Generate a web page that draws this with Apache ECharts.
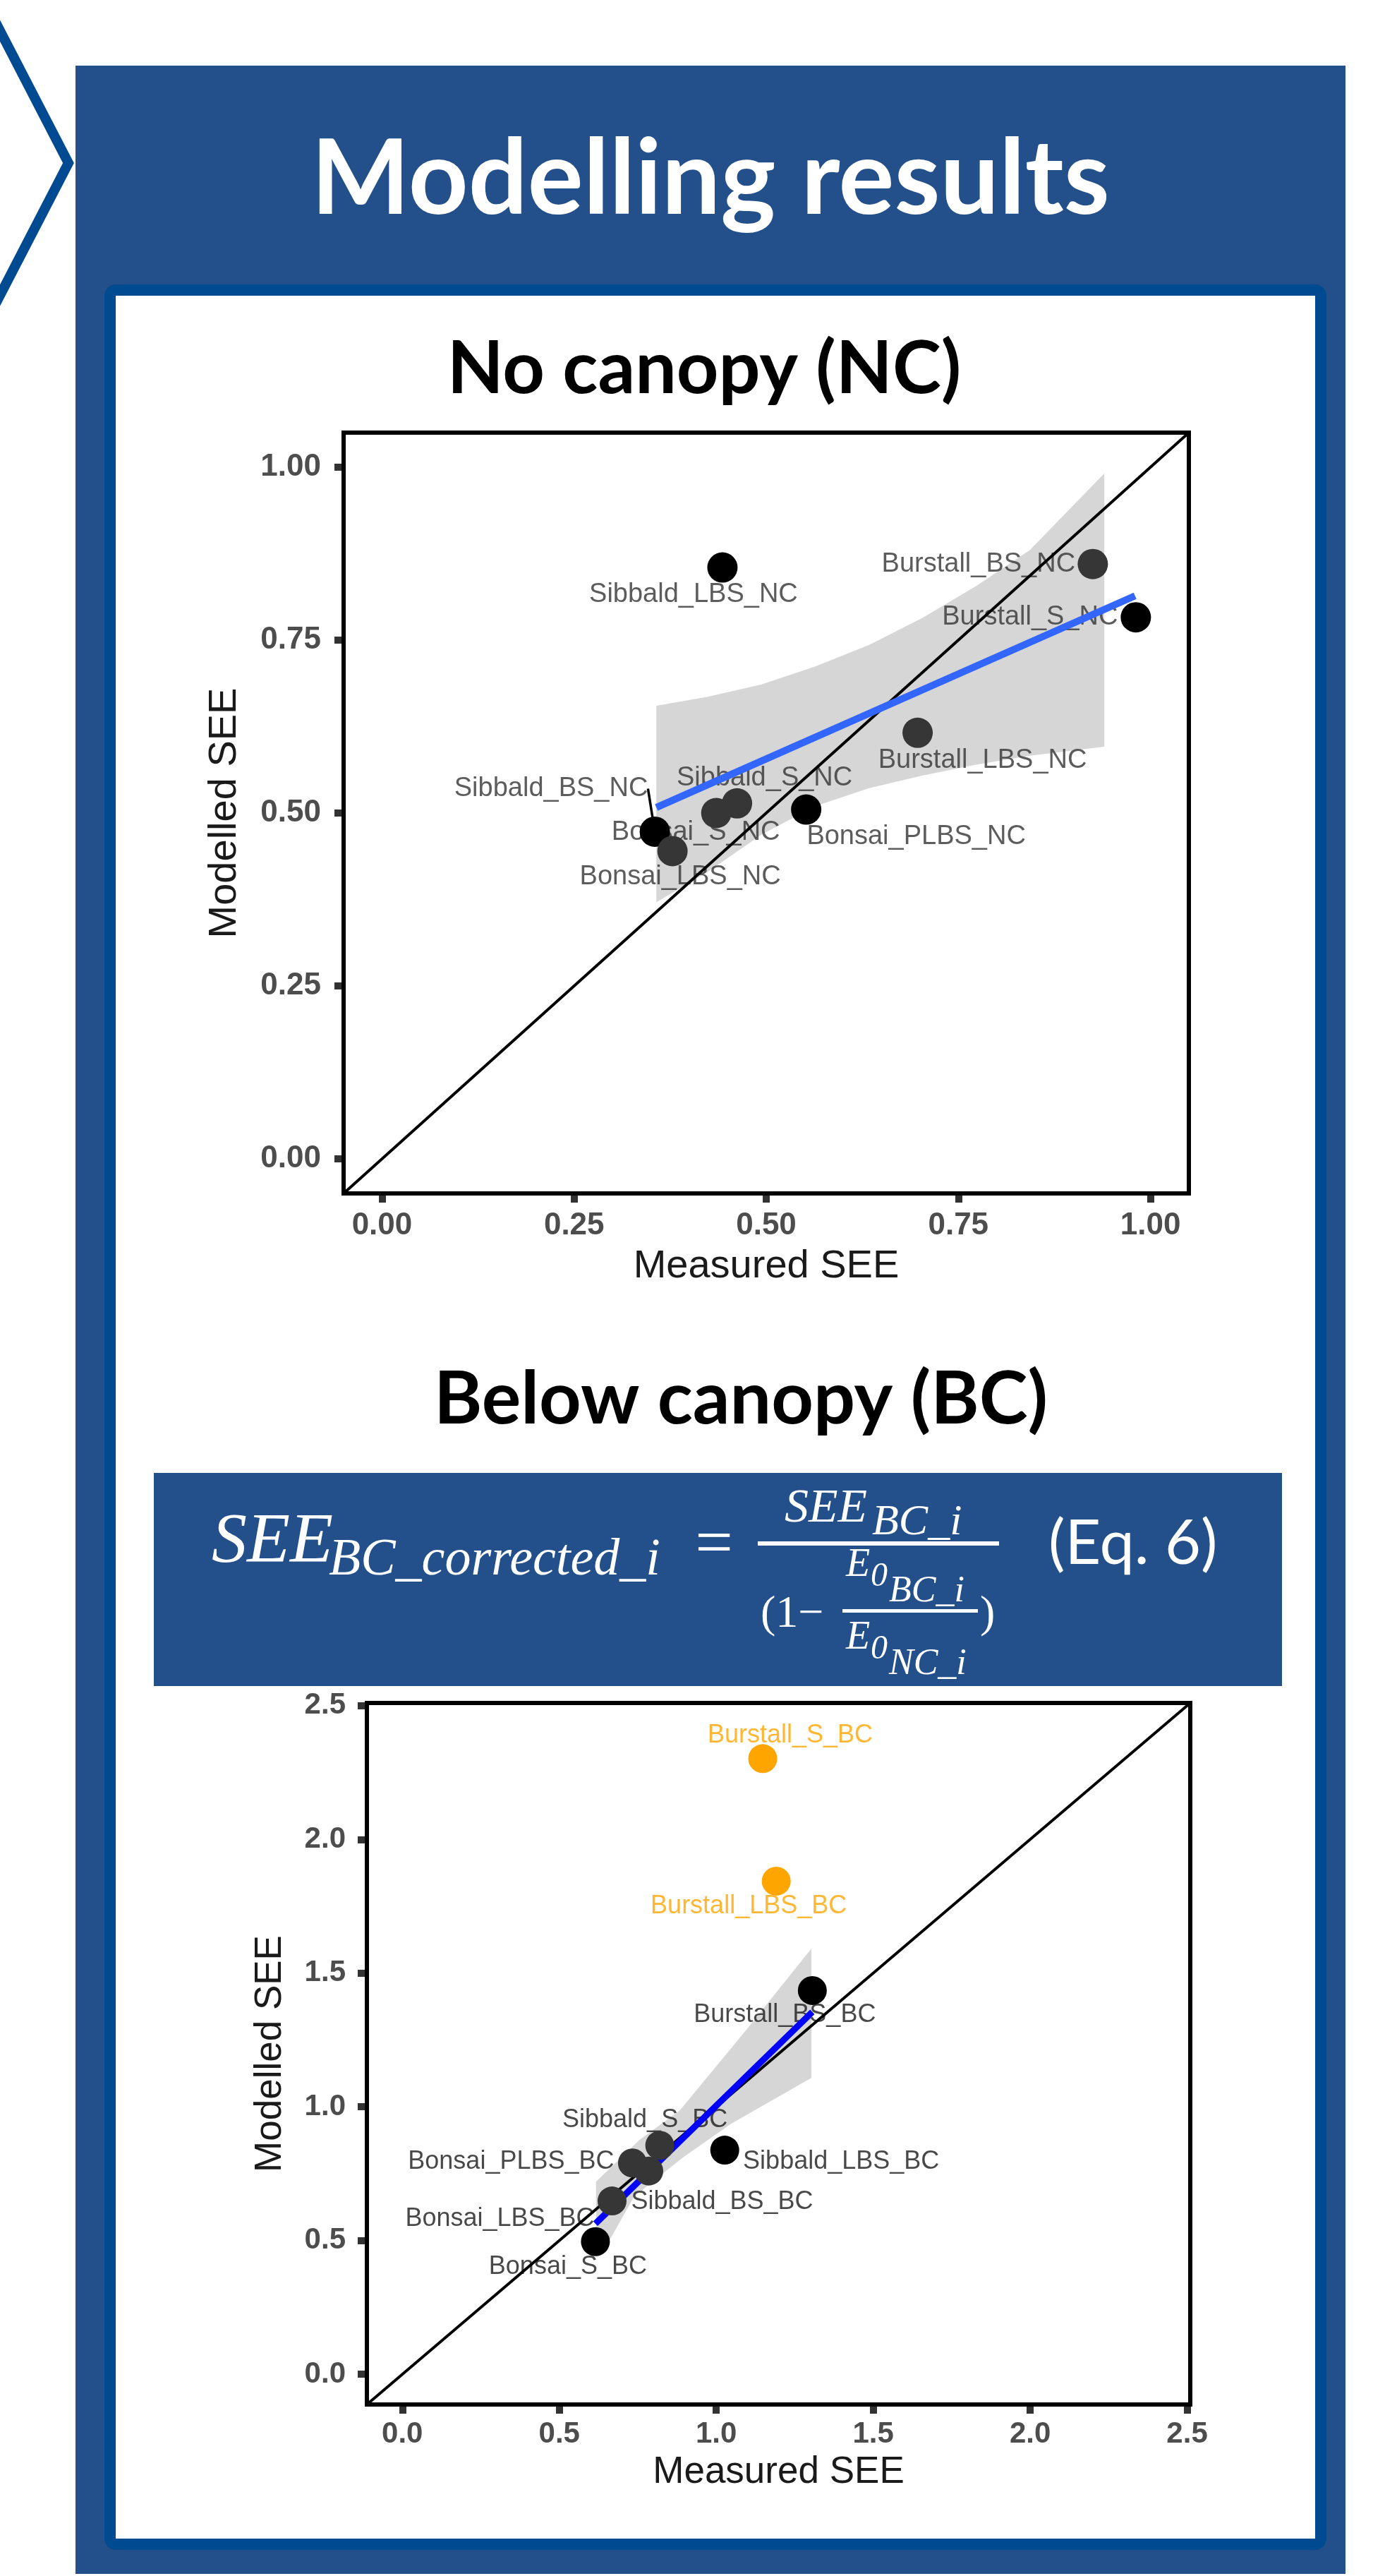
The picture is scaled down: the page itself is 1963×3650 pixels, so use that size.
<!DOCTYPE html>
<html>
<head>
<meta charset="utf-8">
<title>Modelling results</title>
<script src="https://cdn.jsdelivr.net/npm/echarts@6/dist/echarts.min.js"></script>
<style>
  html, body { margin: 0; padding: 0; background: #fff; }
  #page { width: 1963px; height: 3650px; }
</style>
</head>
<body>
<div id="page"></div>
<script>
// ---- No canopy (NC) ----
const ncNames = ["Sibbald_LBS_NC", "Burstall_BS_NC", "Burstall_S_NC", "Burstall_LBS_NC", "Sibbald_S_NC",
  "Bonsai_S_NC", "Bonsai_PLBS_NC", "Sibbald_BS_NC", "Bonsai_LBS_NC"];
const ncMeasured = [0.443, 0.925, 0.981, 0.697, 0.462, 0.435, 0.552, 0.355, 0.378];
const ncModelled = [0.855, 0.860, 0.783, 0.616, 0.514, 0.500, 0.505, 0.473, 0.445];
const ncGroup = [1, 2, 1, 2, 2, 2, 1, 1, 2];
const ncFitX = [0.357, 0.980];
const ncFitY = [0.508, 0.814];
const ncBandX = [0.357, 0.424, 0.494, 0.564, 0.634, 0.703, 0.773, 0.843, 0.940];
const ncBandHi = [0.655, 0.668, 0.686, 0.712, 0.743, 0.782, 0.828, 0.880, 0.991];
const ncBandLo = [0.371, 0.415, 0.469, 0.510, 0.536, 0.554, 0.570, 0.583, 0.596];
const ncTicks = [0, 0.25, 0.5, 0.75, 1];
const ncRange = [-0.05, 1.05];

// ---- Below canopy (BC), corrected ----
const bcNames = ["Burstall_S_BC", "Burstall_LBS_BC", "Burstall_BS_BC", "Sibbald_LBS_BC", "Sibbald_S_BC",
  "Bonsai_PLBS_BC", "Sibbald_BS_BC", "Bonsai_LBS_BC", "Bonsai_S_BC"];
const bcMeasured = [1.148, 1.191, 1.306, 1.027, 0.820, 0.733, 0.785, 0.668, 0.615];
const bcModelled = [2.302, 1.844, 1.435, 0.838, 0.856, 0.790, 0.760, 0.648, 0.496];
const bcGroup = [3, 3, 1, 1, 2, 2, 2, 2, 1];
const bcFitX = [0.615, 1.306];
const bcFitY = [0.563, 1.355];
const bcBandUpX = [0.617, 0.755, 0.884, 1.100, 1.303];
const bcBandUpY = [0.720, 0.876, 0.987, 1.294, 1.592];
const bcBandLoX = [0.617, 0.651, 0.738, 0.893, 1.048, 1.303];
const bcBandLoY = [0.453, 0.483, 0.664, 0.810, 0.937, 1.108];
const bcTicks = [0, 0.5, 1, 1.5, 2, 2.5];
const bcRange = [-0.113, 2.51];

// label nudges in px (ggrepel-like placement)
const ncLabelShift = [[-41, 38], [-162, 0], [-150, 0], [92, 39], [39, -36], [-29, 28], [156, 38], [-147, -61], [11, 37]];
const bcLabelShift = [[39, -33], [-39, 36], [-39, 35], [165, 16], [-21, -36], [-172, -2], [104, 44], [-159, 25], [-39, 36]];

const pointColor = { 1: "#000000", 2: "#363636", 3: "#ffa500" };
const PLOT_FONT = '"Liberation Sans", Arial, sans-serif';
const BLUE = "#23508a";
const DARK_BLUE = "#004a91";

var chart = echarts.init(document.getElementById("page"), null, { renderer: "canvas" });

function makeAxis(idx, ticks, digits, range, name, nameGap, nameSize, labelSize, margin, isY) {
  return {
    type: "value",
    gridIndex: idx,
    min: range[0],
    max: range[1],
    name: name,
    nameLocation: "middle",
    nameGap: nameGap,
    nameRotate: isY ? 90 : 0,
    nameTextStyle: { fontFamily: PLOT_FONT, fontSize: nameSize, color: "#1a1a1a" },
    axisLine: { show: false, onZero: false },
    splitLine: { show: false },
    axisTick: {
      show: true, inside: false, length: 13, customValues: ticks,
      lineStyle: { color: "#333", width: 10 },
    },
    axisLabel: {
      customValues: ticks, margin: margin,
      fontFamily: PLOT_FONT, fontSize: labelSize, fontWeight: "bold", color: "#4d4d4d",
      formatter: function (v) { return Number(v).toFixed(digits); },
    },
  };
}

function bandSeries(idx, upX, upY, loX, loY) {
  return {
    type: "custom",
    xAxisIndex: idx,
    yAxisIndex: idx,
    z: 1,
    silent: true,
    data: [[upX[0], upY[0]]],
    renderItem: function (params, api) {
      var pts = [];
      for (var i = 0; i < upX.length; i++) pts.push(api.coord([upX[i], upY[i]]));
      for (var j = loX.length - 1; j >= 0; j--) pts.push(api.coord([loX[j], loY[j]]));
      return { type: "polygon", shape: { points: pts }, style: { fill: "rgba(153,153,153,0.4)" } };
    },
  };
}

function pointSeries(idx, names, xs, ys, groups, size) {
  return {
    type: "scatter",
    xAxisIndex: idx,
    yAxisIndex: idx,
    z: 4,
    symbolSize: size,
    data: names.map(function (n, i) {
      return { name: n, value: [xs[i], ys[i]], itemStyle: { color: pointColor[groups[i]], opacity: 1 } };
    }),
  };
}

function labelSeries(idx, names, xs, ys, groups, shift, fontSize, textColor, leaderIndex) {
  return {
    type: "scatter",
    xAxisIndex: idx,
    yAxisIndex: idx,
    z: 2,
    symbolSize: 1,
    itemStyle: { color: "rgba(0,0,0,0)" },
    silent: true,
    label: {
      show: true, position: "inside", formatter: "{b}",
      fontFamily: PLOT_FONT, fontSize: fontSize,
    },
    labelLayout: function (p) {
      var s = shift[p.dataIndex];
      return { dx: s[0], dy: s[1] };
    },
    data: names.map(function (n, i) {
      var item = {
        name: n, value: [xs[i], ys[i]],
        label: { color: groups[i] === 3 ? "#ffa500" : textColor },
      };
      if (i === leaderIndex) {
        item.labelLine = { show: true, lineStyle: { color: "#000", width: 3.5 } };
      }
      return item;
    }),
  };
}

function lineSeries(idx, xs, ys, color, width, z) {
  return {
    type: "line",
    xAxisIndex: idx,
    yAxisIndex: idx,
    z: z,
    symbol: "none",
    silent: true,
    lineStyle: { color: color, width: width },
    data: xs.map(function (x, i) { return [x, ys[i]]; }),
  };
}

function txt(text, x, y, font, color, align) {
  return {
    type: "text", z: 10, x: x, y: y,
    style: {
      text: text, font: font, fill: color,
      textAlign: align || "left", align: align || "left",
      textVerticalAlign: "middle", verticalAlign: "middle",
    },
  };
}

const MATH = '"Liberation Serif", "DejaVu Serif", serif';
const graphics = [
  { type: "polyline", z: 0, shape: { points: [[-6, 32], [97, 231], [-6, 430]] },
    style: { stroke: DARK_BLUE, lineWidth: 14, fill: null } },
  { type: "rect", z: 0, shape: { x: 107, y: 93, width: 1800, height: 3554 }, style: { fill: BLUE } },
  { type: "rect", z: 0, shape: { x: 156, y: 411, width: 1716, height: 3194, r: 8 },
    style: { fill: "#fff", stroke: DARK_BLUE, lineWidth: 16 } },
  txt("Modelling results", 1007, 255, 'bold 148px Lato, "Open Sans", sans-serif', "#fff", "center"),
  txt("No canopy (NC)", 998, 523, 'bold 104px Lato, "Open Sans", sans-serif', "#000", "center"),
  txt("Below canopy (BC)", 1050, 1983, 'bold 104px Lato, "Open Sans", sans-serif', "#000", "center"),
  // equation box
  { type: "rect", z: 0, shape: { x: 218, y: 2087, width: 1599, height: 302 }, style: { fill: BLUE } },
  txt("SEE", 300, 2186, "italic 100px " + MATH, "#fff"),
  txt("BC_corrected_i", 466, 2212, "italic 74px " + MATH, "#fff"),
  txt("=", 1012, 2192, "95px " + MATH, "#fff", "center"),
  txt("SEE", 1112, 2138, "italic 68px " + MATH, "#fff"),
  txt("BC_i", 1236, 2158, "italic 62px " + MATH, "#fff"),
  { type: "rect", z: 10, shape: { x: 1074, y: 2184, width: 342, height: 6 }, style: { fill: "#fff" } },
  txt("(1\u2212", 1078, 2288, "64px " + MATH, "#fff"),
  { type: "rect", z: 10, shape: { x: 1194, y: 2280, width: 192, height: 5 }, style: { fill: "#fff" } },
  txt("E", 1199, 2218, "italic 56px " + MATH, "#fff"),
  txt("0", 1234, 2234, "italic 48px " + MATH, "#fff"),
  txt("BC_i", 1260, 2255, "italic 52px " + MATH, "#fff"),
  txt("E", 1199, 2321, "italic 56px " + MATH, "#fff"),
  txt("0", 1234, 2337, "italic 48px " + MATH, "#fff"),
  txt("NC_i", 1260, 2358, "italic 52px " + MATH, "#fff"),
  txt(")", 1389, 2288, "64px " + MATH, "#fff"),
  txt("(Eq. 6)", 1486, 2188, '88px Lato, "Open Sans", sans-serif', "#fff"),
];

var option = {
  backgroundColor: "#fff",
  animation: false,
  graphic: { elements: graphics },
  grid: [
    { left: 487, top: 613, width: 1198, height: 1078, show: true, borderColor: "#000", borderWidth: 6, z: 5 },
    { left: 520, top: 2413, width: 1167, height: 994, show: true, borderColor: "#000", borderWidth: 6, z: 5 },
  ],
  xAxis: [
    makeAxis(0, ncTicks, 2, ncRange, "Measured SEE", 76, 56, 44, 24, false),
    makeAxis(1, bcTicks, 1, bcRange, "Measured SEE", 70, 53, 42, 21, false),
  ],
  yAxis: [
    makeAxis(0, ncTicks, 2, ncRange, "Modelled SEE", 140, 56, 44, 32, true),
    makeAxis(1, bcTicks, 1, bcRange, "Modelled SEE", 110, 53, 42, 30, true),
  ],
  series: [
    bandSeries(0, ncBandX, ncBandHi, ncBandX, ncBandLo),
    labelSeries(0, ncNames, ncMeasured, ncModelled, ncGroup, ncLabelShift, 38, "#333", 7),
    lineSeries(0, ncRange, ncRange, "#000", 4, 3),
    lineSeries(0, ncFitX, ncFitY, "#3366ff", 10, 3.5),
    pointSeries(0, ncNames, ncMeasured, ncModelled, ncGroup, 43),

    bandSeries(1, bcBandUpX, bcBandUpY, bcBandLoX, bcBandLoY),
    labelSeries(1, bcNames, bcMeasured, bcModelled, bcGroup, bcLabelShift, 36, "#1a1a1a", -1),
    lineSeries(1, bcRange, bcRange, "#000", 4, 3),
    lineSeries(1, bcFitX, bcFitY, "#0000ff", 9, 3.5),
    pointSeries(1, bcNames, bcMeasured, bcModelled, bcGroup, 41),
  ],
};
option && chart.setOption(option);
</script>
</body>
</html>
